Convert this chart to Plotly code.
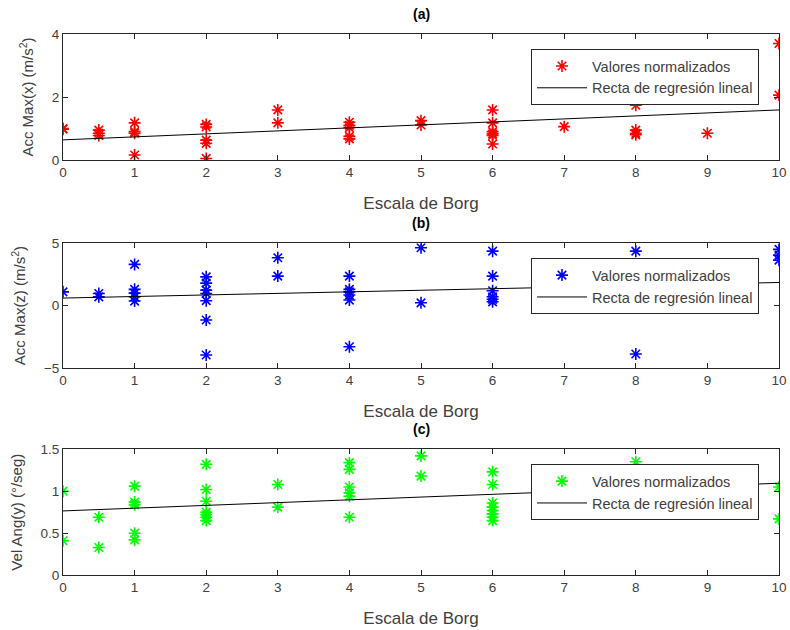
import plotly.graph_objects as go

# ---- data ----
borg_a = [0, 0, 0.5, 0.5, 0.5, 1, 1, 1, 1, 2, 2, 2, 2, 2, 3, 3, 4, 4, 4, 4, 4,
          5, 5, 6, 6, 6, 6, 6, 6, 7, 8, 8, 8, 8, 9, 10, 10]
acc_x = [1.0, 0.98, 0.95, 0.85, 0.78, 1.18, 0.9, 0.85, 0.16, 1.13, 1.05, 0.63, 0.53, 0.05,
         1.59, 1.18, 1.2, 1.1, 1.03, 0.75, 0.67,
         1.25, 1.11, 1.59, 1.18, 0.9, 0.83, 0.78, 0.51, 1.06, 1.74, 0.95, 0.85, 0.8, 0.85,
         3.7, 2.06]
reg_a = [0.64, 0.095]  # intercept, slope

borg_b = [0, 0.5, 0.5, 1, 1, 1, 1, 1, 2, 2, 2, 2, 2, 2, 2, 3, 3, 4, 4, 4, 4, 4, 4,
          5, 5, 6, 6, 6, 6, 6, 6, 8, 8, 8, 10, 10, 10]
acc_z = [1.1, 0.97, 0.7, 3.3, 1.3, 1.0, 0.7, 0.36, 2.3, 1.8, 1.24, 0.97, 0.39, -1.16, -3.96,
         3.83, 2.36, 2.36, 1.3, 1.1, 0.84, 0.44, -3.3,
         4.63, 0.22, 4.36, 2.36, 1.19, 0.7, 0.5, 0.3, 4.36, 0.3, -3.88, 4.5, 4.04, 3.64]
reg_b = [0.6, 0.125]

borg_c = [0, 0, 0.5, 0.5, 1, 1, 1, 1, 1, 2, 2, 2, 2, 2, 2, 2, 3, 3, 4, 4, 4, 4, 4, 4,
          5, 5, 6, 6, 6, 6, 6, 6, 6, 6, 7, 8, 10, 10]
vel_y = [1.0, 0.41, 0.69, 0.33, 1.06, 0.87, 0.84, 0.5, 0.42, 1.32, 1.02, 0.88, 0.75, 0.72, 0.69, 0.65,
         1.08, 0.81, 1.34, 1.26, 1.05, 0.98, 0.94, 0.69,
         1.42, 1.18, 1.23, 1.08, 0.86, 0.81, 0.77, 0.73, 0.69, 0.65, 0.79, 1.35, 1.05, 0.67]
reg_c = [0.765, 0.033]

x_ticks = list(range(0, 11))

panels = [
    dict(x=borg_a, y=acc_x, reg=reg_a, color="#ff0000", title="(a)",
         ytitle="Acc Max(x) (m/s<sup>2</sup>)", yr=[0, 4], yt=[0, 2, 4],
         dom=[0.746, 0.946]),
    dict(x=borg_b, y=acc_z, reg=reg_b, color="#0000ff", title="(b)",
         ytitle="Acc Max(z) (m/s<sup>2</sup>)", yr=[-5, 5], yt=[-5, 0, 5],
         dom=[0.416, 0.614]),
    dict(x=borg_c, y=vel_y, reg=reg_c, color="#00ff00", title="(c)",
         ytitle="Vel Ang(y) (°/seg)", yr=[0, 1.5], yt=[0, 0.5, 1, 1.5],
         dom=[0.087, 0.287]),
]

font_fam = "Liberation Sans, Arial, sans-serif"
axcol = "#262626"
W, H = 790, 630
ML, MR = 63, 11
PW = W - ML - MR
fig = go.Figure()
annotations = []
for i, p in enumerate(panels):
    n = "" if i == 0 else str(i + 1)
    leg = "legend" if i == 0 else f"legend{i+1}"
    fig.add_trace(go.Scatter(
        x=p["x"], y=p["y"], mode="markers", name="Valores normalizados",
        marker=dict(symbol="asterisk-open", size=10, color=p["color"],
                    line=dict(color=p["color"], width=1.6)),
        xaxis="x" + n, yaxis="y" + n, legend=leg))
    xs = [0, 10]
    ys = [p["reg"][0] + p["reg"][1] * v for v in xs]
    fig.add_trace(go.Scatter(
        x=xs, y=ys, mode="lines", name="Recta de regresión lineal",
        line=dict(color="#000000", width=1),
        xaxis="x" + n, yaxis="y" + n, legend=leg))
    ax = dict(range=[0, 10], tickvals=x_ticks, domain=[0, 1], automargin=False,
              showline=True, linecolor=axcol, linewidth=1, mirror="ticks",
              ticks="inside", ticklen=5, tickcolor=axcol, showgrid=False, zeroline=False,
              tickfont=dict(size=13.5, color="#404040", family=font_fam),
              title=dict(text="Escala de Borg", standoff=17,
                         font=dict(size=17, color="#404040", family=font_fam)),
              anchor="y" + n)
    ay = dict(range=p["yr"], tickvals=p["yt"], domain=p["dom"], automargin=False,
              showline=True, linecolor=axcol, linewidth=1, mirror="ticks",
              ticks="inside", ticklen=5, tickcolor=axcol, showgrid=False, zeroline=False,
              tickfont=dict(size=13.5, color="#404040", family=font_fam),
              title=dict(text=p["ytitle"], standoff=14,
                         font=dict(size=15, color="#404040", family=font_fam)),
              anchor="x" + n)
    fig.update_layout(**{"xaxis" + n: ax, "yaxis" + n: ay})
    fig.update_layout(**{leg: dict(
        x=(531 - ML) / PW, y=p["dom"][1] - 15 / H, xanchor="left", yanchor="top",
        bgcolor="white", bordercolor="#262626", borderwidth=1,
        font=dict(size=14.5, color="#404040", family=font_fam),
        tracegroupgap=0, itemwidth=50)})
    annotations.append(dict(text="<b>" + p["title"] + "</b>", x=0.5, y=p["dom"][1] + 10 / H,
                            xref="paper", yref="paper", xanchor="center", yanchor="bottom",
                            showarrow=False,
                            font=dict(size=14, color="#000000", family=font_fam)))

fig.update_layout(width=W, height=H, margin=dict(l=ML, r=MR, t=0, b=0),
                  paper_bgcolor="white", plot_bgcolor="white",
                  annotations=annotations, showlegend=True)
fig.write_html("out.html")
